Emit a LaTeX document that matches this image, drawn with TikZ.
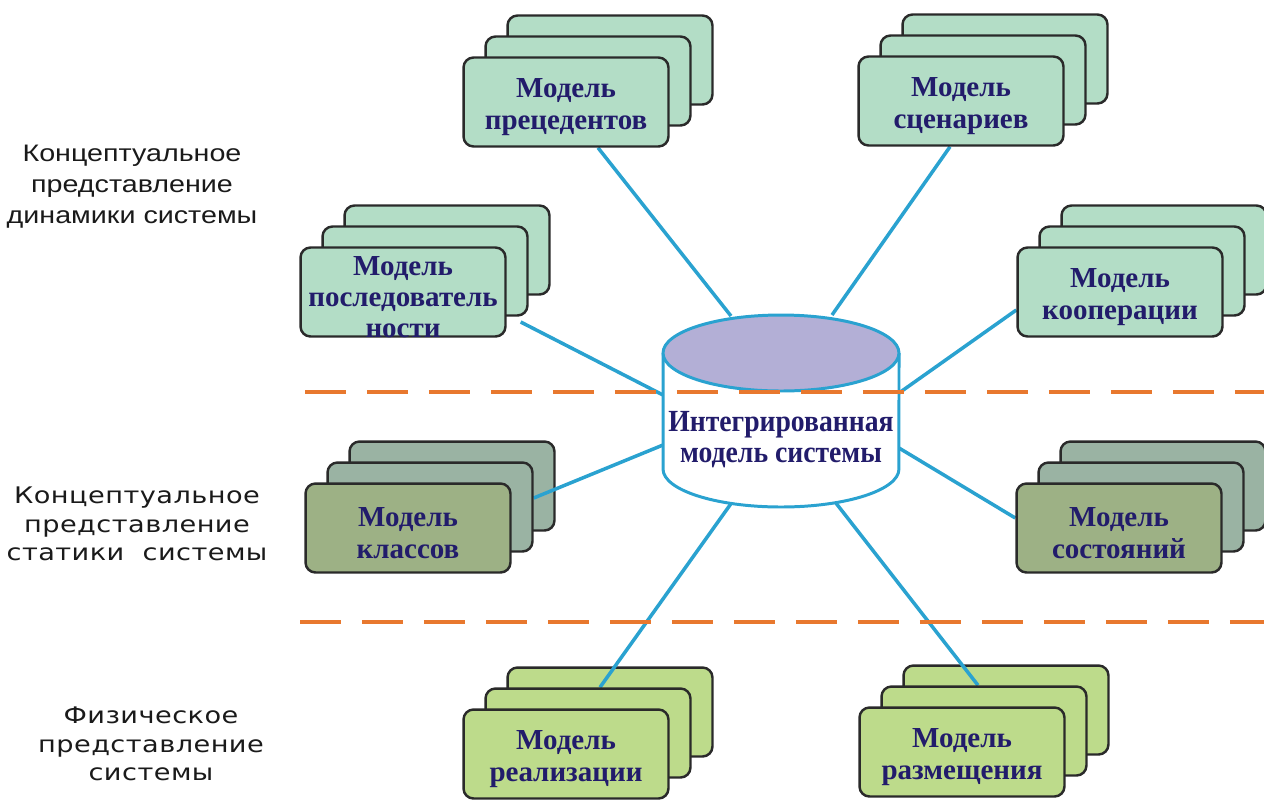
\documentclass[tikz,border=0pt]{standalone}
\usepackage{fontspec}
\setmainfont{Liberation Serif}
\newfontfamily\sidefontA[FakeStretch=1.2]{Liberation Sans}
\newfontfamily\sidefontB[FakeStretch=1.19,LetterSpace=2]{DejaVu Sans}
\newfontfamily\corefont[FakeStretch=0.9]{Liberation Serif}
\usetikzlibrary{calc}
\pgfdeclarelayer{back}
\pgfdeclarelayer{links}
\pgfsetlayers{back,links,main}

\definecolor{mint}{HTML}{B3DDC6}
\definecolor{olive}{HTML}{9DB185}
\definecolor{greygreen}{HTML}{9AB3A3}
\definecolor{lime}{HTML}{BDDB8B}
\definecolor{navy}{HTML}{221C6B}
\definecolor{edge}{HTML}{2A2A2A}
\definecolor{linkblue}{HTML}{2AA2D0}
\definecolor{lavender}{HTML}{B3AFD6}
\definecolor{sepor}{HTML}{E8782E}
\definecolor{sidegray}{HTML}{1A1A1A}

\tikzset{
  card/.style={draw=edge, line width=1.4pt, rounded corners=0.2cm,
    minimum width=4.1cm, minimum height=1.78cm, inner sep=0pt},
  cardtext/.style={font=\bfseries\fontsize{16.5}{17.8}\selectfont,
    text=navy, align=center},
  link/.style={draw=linkblue, line width=2pt},
  sepline/.style={draw=sepor, line width=2.3pt, dash pattern=on 0.82cm off 0.42cm},
  cylline/.style={draw=linkblue, line width=1.7pt},
  sideA/.style={font=\sidefontA\fontsize{13.6}{17.6}\selectfont, text=sidegray, align=center},
  sideB/.style={font=\sidefontB\fontsize{13}{16.4}\selectfont, text=sidegray, align=center},
}

% a stack of three cards: name, x, y of the front card, front fill, back fill, text
\newcommand\cardstack[6]{%
  \begin{pgfonlayer}{back}
    \node[card, fill=#5] (#1-3) at (#2+44,#3-42) {};
  \end{pgfonlayer}
  \node[card, fill=#5] (#1-2) at (#2+22,#3-21) {};
  \node[card, fill=#4] (#1) at (#2,#3) {};
  \node[cardtext] (#1-t) at (#2,#3+5) {#6};
}

\begin{document}
\begin{tikzpicture}[x=0.02cm, y=-0.02cm]
\useasboundingbox (0,0) rectangle (1264,799);

% model cards
\cardstack{prec}{566}{102}{mint}{mint}{Модель\\прецедентов}
\cardstack{scen}{961}{101}{mint}{mint}{Модель\\сценариев}
\cardstack{posl}{403}{292}{mint}{mint}{Модель\\последователь\\ности}
\cardstack{koop}{1120}{292}{mint}{mint}{Модель\\кооперации}
\cardstack{klass}{408}{528}{olive}{greygreen}{Модель\\классов}
\cardstack{sost}{1119}{528}{olive}{greygreen}{Модель\\состояний}
\cardstack{real}{566}{754}{lime}{lime}{Модель\\реализации}
\cardstack{razm}{962}{752}{lime}{lime}{Модель\\размещения}

% integrated model: cylinder
\path[fill=white, cylline] (663,353) -- (663,469)
  arc[start angle=180, end angle=360, x radius=2.36cm, y radius=0.76cm]
  -- (899,353);
\path[fill=lavender, cylline] (781,353) ellipse [x radius=2.36cm, y radius=0.76cm];
\node[font=\corefont\bfseries\fontsize{17.5}{17.6}\selectfont, text=navy, align=center]
  (core) at (781,440) {Интегрированная\\модель системы};

% attachment points on the cylinder
\coordinate (cPrec) at (731,316);
\coordinate (cScen) at (832,315);
\coordinate (cPosl) at (663,395);
\coordinate (cKoop) at (899,393);
\coordinate (cKlass) at (663,445);
\coordinate (cSost) at (899,448);
\coordinate (cReal) at (735,498);
\coordinate (cRazm) at (832,498);

\begin{pgfonlayer}{links}
  \draw[link] ($(prec.south)+(32,0)$) -- (cPrec);
  \draw[link] ($(scen.south)+(-11,0)$) -- (cScen);
  \draw[link] ($(posl.east)+(14,30)$) -- (cPosl);
  \draw[link] ($(koop.west)+(0,18)$) -- (cKoop);
  \draw[link] ($(klass-2.east)+(0,-9)$) -- (cKlass);
  \draw[link] ($(sost.west)+(0,-10)$) -- (cSost);
  \draw[link] ($(real-2.north)+(12,0)$) -- (cReal);
  \draw[link] ($(razm-2.north)+(-6,0)$) -- (cRazm);
\end{pgfonlayer}

% level separators
\draw[sepline] (305,392) -- (1264,392);
\draw[sepline] (300,622) -- (1264,622);

% level captions
\node[sideA] (capDyn) at (132,187) {Концептуальное\\представление\\динамики системы};
\node[sideB] (capStat) at (137,524) {Концептуальное\\представление\\статики\ \ системы};
\node[sideB] (capPhys) at (151,744) {Физическое\\представление\\системы};
\end{tikzpicture}
\end{document}
